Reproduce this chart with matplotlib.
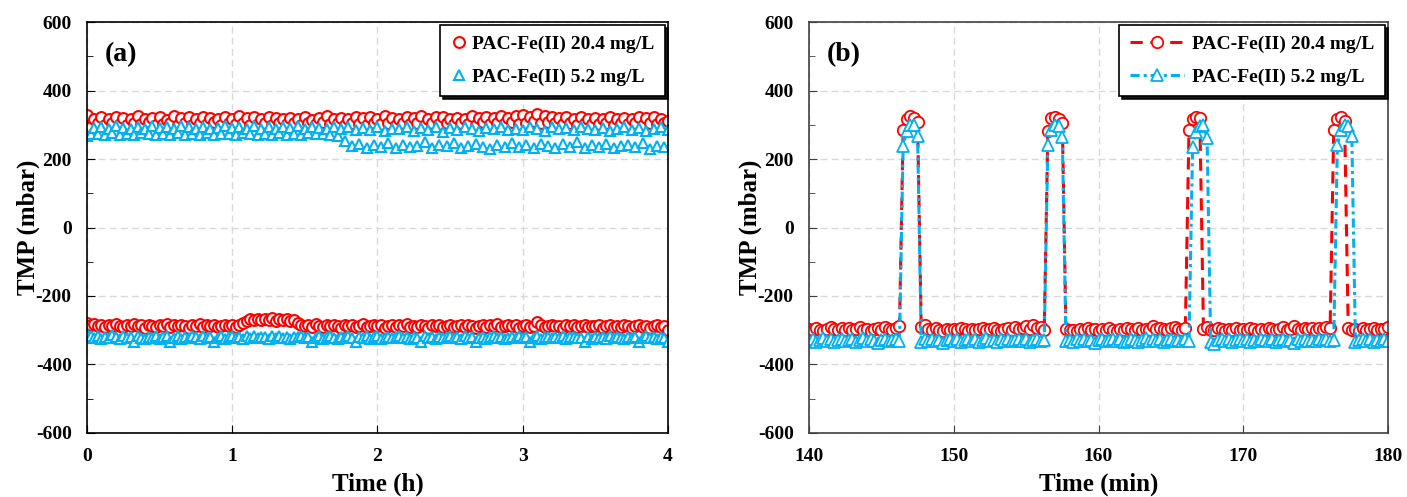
import matplotlib
matplotlib.use("Agg")
import matplotlib.pyplot as plt
from matplotlib.ticker import MultipleLocator

# ---- panel (a): long-term run, time in minutes (plotted in h) ----
t_a_min = [
    0, 1.5, 3, 4.5, 6, 7.5, 9, 10.5, 12, 13.5,
    15, 16.5, 18, 19.5, 21, 22.5, 24, 25.5, 27, 28.5,
    30, 31.5, 33, 34.5, 36, 37.5, 39, 40.5, 42, 43.5,
    45, 46.5, 48, 49.5, 51, 52.5, 54, 55.5, 57, 58.5,
    60, 61.5, 63, 64.5, 66, 67.5, 69, 70.5, 72, 73.5,
    75, 76.5, 78, 79.5, 81, 82.5, 84, 85.5, 87, 88.5,
    90, 91.5, 93, 94.5, 96, 97.5, 99, 100.5, 102, 103.5,
    105, 106.5, 108, 109.5, 111, 112.5, 114, 115.5, 117, 118.5,
    120, 121.5, 123, 124.5, 126, 127.5, 129, 130.5, 132, 133.5,
    135, 136.5, 138, 139.5, 141, 142.5, 144, 145.5, 147, 148.5,
    150, 151.5, 153, 154.5, 156, 157.5, 159, 160.5, 162, 163.5,
    165, 166.5, 168, 169.5, 171, 172.5, 174, 175.5, 177, 178.5,
    180, 181.5, 183, 184.5, 186, 187.5, 189, 190.5, 192, 193.5,
    195, 196.5, 198, 199.5, 201, 202.5, 204, 205.5, 207, 208.5,
    210, 211.5, 213, 214.5, 216, 217.5, 219, 220.5, 222, 223.5,
    225, 226.5, 228, 229.5, 231, 232.5, 234, 235.5, 237, 238.5,
    240,
]

red_bw_a = [
    328, 292, 318, 304, 322, 300, 316, 306, 324, 302,
    320, 298, 318, 305, 326, 301, 317, 308, 321, 299,
    323, 303, 315, 306, 325, 300, 319, 304, 322, 298,
    317, 305, 324, 302, 320, 307, 316, 299, 323, 304,
    318, 301, 325, 306, 319, 300, 322, 303, 317, 305,
    324, 299, 320, 304, 316, 302, 321, 306, 318, 300,
    323, 305, 315, 301, 320, 307, 325, 302, 318, 304,
    321, 299, 317, 306, 324, 303, 319, 300, 322, 305,
    316, 302, 325, 304, 320, 299, 318, 306, 323, 301,
    319, 305, 326, 300, 317, 304, 322, 302, 324, 306,
    318, 301, 321, 305, 316, 303, 325, 299, 320, 307,
    323, 302, 319, 306, 327, 304, 321, 308, 325, 303,
    328, 306, 324, 310, 330, 305, 326, 309, 322, 304,
    319, 302, 324, 305, 318, 300, 322, 306, 317, 303,
    321, 301, 316, 305, 323, 299, 318, 304, 320, 302,
    317, 306, 322, 300, 319, 304, 324, 302, 318, 305,
    312,
]

blue_bw_a = [
    266, 272, 290, 274, 293, 270, 288, 276, 295, 271,
    291, 273, 287, 269, 294, 275, 289, 272, 296, 270,
    290, 274, 293, 271, 288, 276, 295, 270, 292, 273,
    289, 271, 294, 275, 287, 269, 291, 274, 296, 272,
    290, 270, 293, 276, 288, 272, 295, 271, 289, 274,
    292, 269, 287, 275, 294, 271, 290, 273, 296, 270,
    288, 276, 293, 272, 291, 274, 289, 270, 294, 268,
    287, 252, 292, 238, 284, 245, 290, 233, 286, 240,
    293, 236, 281, 248, 289, 231, 287, 242, 294, 235,
    283, 239, 291, 250, 286, 233, 292, 241, 280, 237,
    290, 246, 285, 232, 293, 239, 288, 244, 282, 236,
    291, 230, 287, 242, 294, 236, 284, 248, 289, 234,
    286, 240, 293, 231, 288, 245, 282, 237, 292, 233,
    287, 243, 290, 235, 284, 249, 293, 232, 288, 240,
    285, 236, 291, 244, 283, 233, 289, 238, 294, 242,
    286, 234, 290, 247, 282, 230, 288, 239, 292, 236,
    285,
]

red_filt_a = [
    -280, -286, -283, -289, -285, -290, -284, -288, -282, -287,
    -291, -285, -288, -283, -289, -286, -292, -284, -287, -290,
    -285, -288, -283, -291, -286, -289, -284, -287, -292, -285,
    -288, -283, -290, -286, -289, -284, -291, -287, -285, -289,
    -286, -290, -284, -280, -272, -268, -270, -266, -271, -267,
    -269, -265, -272, -268, -270, -266, -273, -269, -278, -284,
    -288, -285, -290, -283, -287, -291, -286, -289, -284, -288,
    -292, -286, -289, -285, -290, -287, -283, -291, -288, -286,
    -289, -284, -292, -287, -285, -290, -286, -288, -283, -291,
    -287, -290, -285, -288, -292, -286, -289, -284, -290, -287,
    -285, -291, -288, -286, -290, -284, -289, -292, -287, -285,
    -290, -286, -288, -283, -291, -287, -285, -289, -286, -292,
    -288, -284, -290, -287, -275, -286, -291, -288, -285, -289,
    -287, -292, -286, -289, -285, -290, -288, -284, -291, -287,
    -289, -286, -292, -288, -285, -290, -287, -291, -286, -289,
    -292, -288, -285, -290, -287, -293, -289, -286, -291, -288,
    -298,
]

blue_filt_a = [
    -312, -318, -322, -316, -325, -319, -323, -315, -321, -326,
    -318, -324, -320, -333, -317, -322, -327, -319, -323, -316,
    -325, -321, -318, -334, -322, -317, -326, -320, -324, -318,
    -321, -327, -316, -323, -319, -335, -322, -318, -325, -320,
    -317, -323, -320, -326, -318, -322, -316, -324, -319, -321,
    -325, -318, -322, -317, -323, -320, -326, -319, -321, -318,
    -324, -320, -333, -322, -318, -325, -321, -317, -323, -326,
    -319, -322, -318, -324, -334, -320, -323, -317, -325, -321,
    -318, -326, -322, -319, -324, -320, -317, -323, -321, -325,
    -319, -322, -335, -318, -324, -321, -326, -319, -323, -320,
    -317, -324, -321, -325, -318, -322, -320, -334, -323, -319,
    -325, -321, -318, -324, -320, -326, -322, -319, -323, -317,
    -324, -320, -335, -322, -318, -325, -321, -319, -324, -320,
    -323, -318, -326, -321, -319, -324, -322, -333, -320, -325,
    -319, -323, -321, -326, -318, -324, -320, -322, -325, -319,
    -322, -320, -334, -323, -318, -324, -321, -326, -320, -323,
    -335,
]

# ---- panel (b): zoom on 140-180 min ----
t_b = [
    140.0, 140.25, 140.5, 140.75, 141.0, 141.25, 141.5, 141.75, 142.0, 142.25,
    142.5, 142.75, 143.0, 143.25, 143.5, 143.75, 144.0, 144.25, 144.5, 144.75,
    145.0, 145.25, 145.5, 145.75, 146.0, 146.25, 146.5, 146.75, 147.0, 147.25,
    147.5, 147.75, 148.0, 148.25, 148.5, 148.75, 149.0, 149.25, 149.5, 149.75,
    150.0, 150.25, 150.5, 150.75, 151.0, 151.25, 151.5, 151.75, 152.0, 152.25,
    152.5, 152.75, 153.0, 153.25, 153.5, 153.75, 154.0, 154.25, 154.5, 154.75,
    155.0, 155.25, 155.5, 155.75, 156.0, 156.25, 156.5, 156.75, 157.0, 157.25,
    157.5, 157.75, 158.0, 158.25, 158.5, 158.75, 159.0, 159.25, 159.5, 159.75,
    160.0, 160.25, 160.5, 160.75, 161.0, 161.25, 161.5, 161.75, 162.0, 162.25,
    162.5, 162.75, 163.0, 163.25, 163.5, 163.75, 164.0, 164.25, 164.5, 164.75,
    165.0, 165.25, 165.5, 165.75, 166.0, 166.25, 166.5, 166.75, 167.0, 167.25,
    167.5, 167.75, 168.0, 168.25, 168.5, 168.75, 169.0, 169.25, 169.5, 169.75,
    170.0, 170.25, 170.5, 170.75, 171.0, 171.25, 171.5, 171.75, 172.0, 172.25,
    172.5, 172.75, 173.0, 173.25, 173.5, 173.75, 174.0, 174.25, 174.5, 174.75,
    175.0, 175.25, 175.5, 175.75, 176.0, 176.25, 176.5, 176.75, 177.0, 177.25,
    177.5, 177.75, 178.0, 178.25, 178.5, 178.75, 179.0, 179.25, 179.5, 179.75,
    180.0,
]

red_b = [
    -296, -300, -293, -298, -301, -295, -290, -297, -299, -294,
    -298, -292, -300, -296, -291, -299, -295, -302, -297, -293,
    -298, -290, -296, -300, -294, -289, 285, 318, 325, 320,
    308, -290, -284, -297, -300, -293, -298, -301, -295, -299,
    -296, -300, -293, -297, -302, -295, -299, -296, -292, -300,
    -297, -294, -299, -301, -296, -293, -298, -290, -295, -292,
    -288, -296, -285, -293, -290, -298, 283, 320, 324, 316,
    306, -295, -300, -298, -301, -296, -299, -294, -300, -297,
    -302, -295, -299, -293, -298, -301, -296, -300, -294, -297,
    -299, -292, -298, -296, -300, -289, -297, -293, -296, -299,
    -294, -290, -297, -298, -292, 284, 316, 322, 320, -296,
    -290, -298, -300, -293, -297, -301, -295, -298, -292, -299,
    -296, -300, -294, -297, -302, -295, -299, -293, -296, -300,
    -297, -291, -299, -295, -288, -296, -300, -293, -297, -294,
    -299, -292, -296, -290, -294, 286, 318, 324, 312, -293,
    -298, -296, -301, -294, -299, -297, -292, -300, -295, -296,
    -291,
]

blue_b = [
    -330, -326, -333, -328, -324, -331, -327, -335, -329, -325,
    -332, -328, -326, -334, -329, -323, -331, -327, -330, -336,
    -328, -325, -332, -329, -326, -331, 238, 282, 298, 300,
    268, -333, -327, -330, -325, -332, -328, -338, -329, -326,
    -331, -327, -334, -328, -325, -330, -326, -333, -329, -324,
    -331, -328, -335, -327, -330, -326, -332, -329, -325, -331,
    -327, -334, -328, -326, -330, -328, 242, 285, 300, 296,
    265, -332, -328, -334, -327, -330, -325, -331, -329, -336,
    -328, -326, -332, -329, -325, -331, -327, -333, -330, -326,
    -329, -335, -328, -324, -331, -327, -330, -326, -333, -329,
    -325, -331, -328, -330, -327, -332, 236, 280, 297, 299,
    262, -334, -340, -329, -326, -331, -327, -333, -328, -325,
    -330, -327, -335, -328, -331, -326, -329, -332, -327, -334,
    -328, -325, -331, -329, -336, -327, -330, -326, -332, -328,
    -331, -327, -329, -325, -330, -328, 240, 284, 299, 297,
    266, -333, -329, -326, -331, -327, -334, -328, -330, -325,
    -330,
]

label_hi = "PAC-Fe(II) 20.4 mg/L"
label_lo = "PAC-Fe(II) 5.2 mg/L"
RED = "#FF0000"
BLUE = "#00B0F0"

plt.rcParams["font.family"] = ["Liberation Serif", "DejaVu Serif"]
plt.rcParams["font.weight"] = "bold"
plt.rcParams["axes.labelweight"] = "bold"
plt.rcParams["axes.unicode_minus"] = False

fig = plt.figure(figsize=(14.07, 4.97), dpi=100)
ax1 = fig.add_axes([0.0618, 0.1288, 0.413, 0.8269])
ax2 = fig.add_axes([0.575, 0.1288, 0.4115, 0.8269])

t_a_h = [m / 60 for m in t_a_min]
mk = dict(linestyle="none", markersize=7.8, markerfacecolor="white", markeredgewidth=1.5)
ax1.plot(t_a_h, red_bw_a, marker="o", color=RED, label=label_hi, **mk)
ax1.plot(t_a_h, red_filt_a, marker="o", color=RED, **mk)
ax1.plot(t_a_h, blue_bw_a, marker="^", color=BLUE, label=label_lo, **mk)
ax1.plot(t_a_h, blue_filt_a, marker="^", color=BLUE, **mk)

ax2.plot(t_b, red_b, color=RED, lw=2.2, linestyle=(0, (4, 2.5)), marker="o",
         markersize=8.2, markerfacecolor="white", markeredgewidth=1.3, label=label_hi)
ax2.plot(t_b, blue_b, color=BLUE, lw=2.2, linestyle=(0, (3, 1.3, 1, 1.3)), marker="^",
         markersize=8.2, markerfacecolor="white", markeredgewidth=1.3, label=label_lo)

shadow = {"facecolor": "black", "edgecolor": "black", "alpha": 0.9}

for ax, xlab, tag, spine_col in [(ax1, "Time (h)", "(a)", "black"),
                                 (ax2, "Time (min)", "(b)", "#404040")]:
    ax.set_ylim(-600, 600)
    ax.yaxis.set_major_locator(MultipleLocator(200))
    ax.yaxis.set_minor_locator(MultipleLocator(100))
    ax.grid(True, which="major", color="#d9d9d9", linestyle=(0, (5, 3)), lw=1)
    ax.set_axisbelow(True)
    ax.tick_params(which="both", direction="in", labelsize=14, color=spine_col)
    ax.tick_params(which="major", length=6, pad=11)
    ax.tick_params(which="minor", length=4)
    for s in ax.spines.values():
        s.set_color(spine_col)
        s.set_linewidth(1.2)
    for lab in ax.get_xticklabels() + ax.get_yticklabels():
        lab.set_fontweight("bold")
    ax.set_xlabel(xlab, fontsize=18, fontweight="bold", labelpad=5)
    ax.set_ylabel("TMP (mbar)", fontsize=18, fontweight="bold", labelpad=-3)
    ax.text(0.03, 0.92, tag, transform=ax.transAxes, fontsize=20,
            fontweight="bold", va="center", ha="left")

ax1.set_xlim(0, 4)
ax1.xaxis.set_major_locator(MultipleLocator(1))
ax2.set_xlim(140, 180)
ax2.xaxis.set_major_locator(MultipleLocator(10))

leg1 = ax1.legend(loc="upper right", bbox_to_anchor=(1.0, 1.0), borderaxespad=0.15,
                  frameon=True, fancybox=False, edgecolor="black", framealpha=1,
                  shadow=shadow, handlelength=0.8, handletextpad=0.3,
                  labelspacing=0.75, borderpad=0.55, prop={"weight": "bold", "size": 14})
leg1.get_frame().set_linewidth(1.2)

leg2 = ax2.legend(loc="upper right", bbox_to_anchor=(1.0, 1.0), borderaxespad=0.15,
                  frameon=True, fancybox=False, edgecolor="black", framealpha=1,
                  shadow=shadow, handlelength=2.8, handletextpad=0.4,
                  labelspacing=0.75, borderpad=0.55, prop={"weight": "bold", "size": 14})
leg2.get_frame().set_linewidth(1.2)

fig.savefig("out.png", dpi=100)
